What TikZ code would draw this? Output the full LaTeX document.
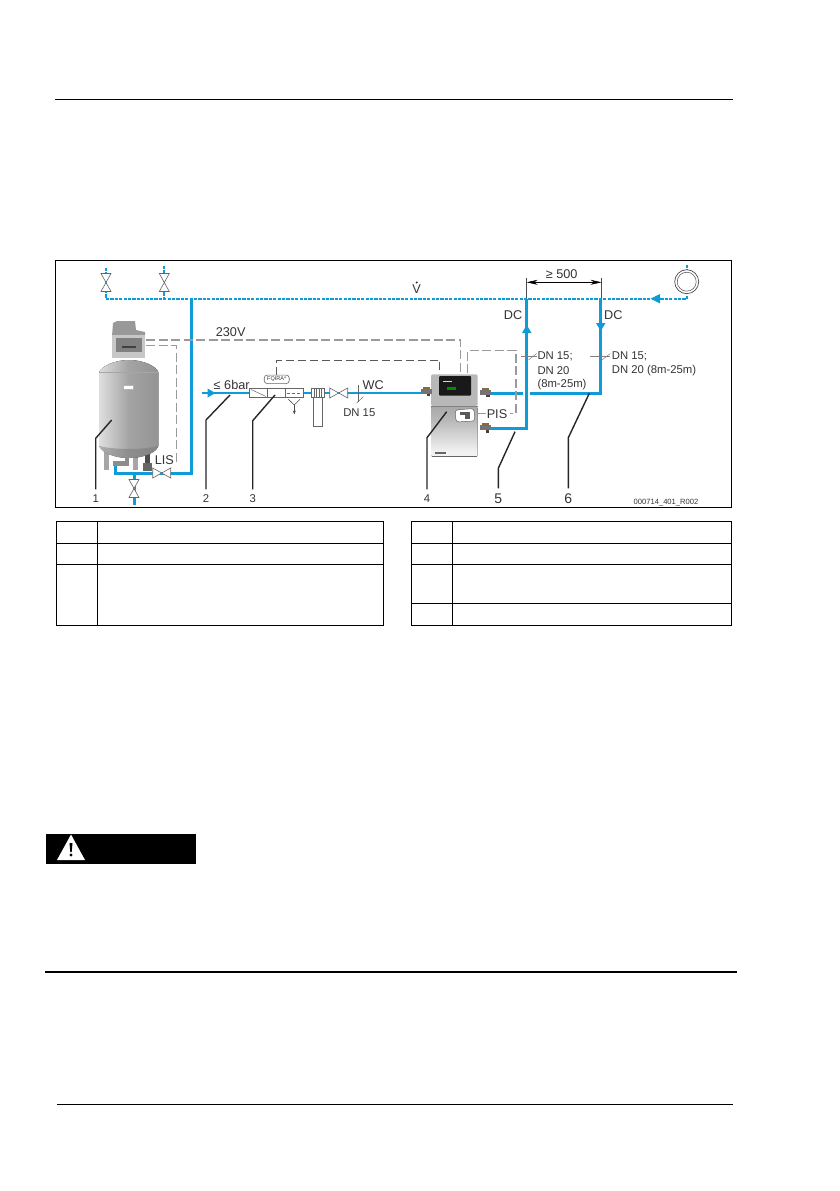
\documentclass[tikz,border=0pt]{standalone}
\usepackage{fontspec}
\setmainfont{Liberation Sans}
\usetikzlibrary{arrows.meta}
\definecolor{pipeblue}{HTML}{0F9BD7}
\definecolor{wiregray}{HTML}{9A9A9A}
\definecolor{brass}{HTML}{8A6A3A}
\pgfdeclarehorizontalshading{tankshade}{100bp}{
  color(0bp)=(black!42); color(22bp)=(black!10); color(50bp)=(black!36); color(100bp)=(black!48)}
\pgfdeclareverticalshading{unitshade}{100bp}{
  color(0bp)=(black!3); color(30bp)=(black!5); color(62bp)=(black!28); color(100bp)=(black!45)}
\tikzset{
  pipe/.style={draw=pipeblue, line width=3pt},
  thinpipe/.style={draw=pipeblue, line width=2.2pt},
  mainpipe/.style={draw=pipeblue, line width=2pt, dash pattern=on 3.2pt off 1.2pt},
  flowtip/.style={draw=none, fill=pipeblue},
  wire/.style={draw=wiregray, line width=1.1pt, dash pattern=on 9pt off 3.5pt},
  signal/.style={draw=black!65, line width=0.7pt, dash pattern=on 8pt off 4pt},
  leader/.style={draw=black!85, line width=1.4pt},
  rule/.style={draw=black, line width=0.9pt},
  tablerule/.style={draw=black, line width=0.8pt},
  thin part/.style={draw=black!60, line width=0.6pt, fill=white},
  fitting/.style={draw=none, fill=black!55, minimum width=11pt, minimum height=5pt, inner sep=0pt},
  lab/.style={font=\fontsize{12.7}{15}\selectfont, text=black!80, inner sep=0pt},
  labsmall/.style={font=\fontsize{11.3}{14}\selectfont, text=black!80, inner sep=0pt},
  numbig/.style={font=\fontsize{14}{16}\selectfont, text=black!80, inner sep=0pt},
  valve/.pic={
    \draw[thin part] (-9,-5) -- (9,5) -- (9,-5) -- (-9,5) -- cycle;
  },
}
\begin{document}
\begin{tikzpicture}[x=1pt, y=-1pt]
    \useasboundingbox (0,0) rectangle (839,1191);
    % page rules
    \draw[rule] (55,99) -- (733,99);
    \draw[rule] (57,1104) -- (733,1104);
    \draw[draw=black, line width=2pt] (45,971.5) -- (737,971.5);
    % frame
    \draw[rule] (55.5,260.5) rectangle (731.5,507.5);

    % pipe corners
    \coordinate (mainL) at (106,298.7);
    \coordinate (mainR) at (686.7,298.7);
    \coordinate (riserT) at (191,298.7);
    \coordinate (riserB) at (191,473);
    \coordinate (tankOutB) at (115,473);
    \coordinate (tankOutT) at (115,463);
    \coordinate (dcUpT) at (526.7,298.7);
    \coordinate (dcUpB) at (526.7,428.3);
    \coordinate (dcDownT) at (600.7,298.7);
    \coordinate (dcDownB) at (600.7,393);

    % blue lines
    \draw[mainpipe] (mainL) -- (mainR);
    \draw[mainpipe] (106,268) -- (mainL);
    \draw[mainpipe] (164.3,266) -- (164.3,298.7);
    \draw[mainpipe] (mainR) -- (686.7,265);
    \draw[pipe, line join=miter] (riserT) -- (riserB) -- (tankOutB) -- (tankOutT);
    \draw[pipe] (134,473) -- (134,505);
    \draw[thinpipe] (201.7,393) -- (426,393);
    \draw[pipe] (491,393) -- (523,393);
    \draw[pipe] (529.5,393) -- (dcDownB) -- (dcDownT);
    \draw[pipe] (490,428.3) -- (dcUpB) -- (dcUpT);
    % flow tips
    \fill[flowtip] (215.5,393) -- (207.5,388.5) -- (207.5,397.5) -- cycle;
    \fill[flowtip] (526.7,325) -- (522,333) -- (531.5,333) -- cycle;
    \fill[flowtip] (600.7,331) -- (596,323) -- (605.5,323) -- cycle;
    \fill[flowtip] (650.5,298.7) -- (660,294) -- (660,303.5) -- cycle;

    % signal lines
    \draw[wire] (146,340) -- (460.7,340) -- (460.7,373);
    \draw[wire] (146,345.7) -- (176.7,345.7) -- (176.7,463);
    \draw[wire] (467.3,373) -- (467.3,350.3) -- (516,350.3) -- (516,413.5) -- (510,413.5);
    \draw[wire] (478,413.5) -- (486,413.5);
    \draw[signal] (276.7,375) -- (276.7,360) -- (439.3,360) -- (439.3,373);

    % tank legs and outlet
    \fill[black!35] (104,450) rectangle (109,470);
    \fill[black!35] (133,450) rectangle (138,470);
    \fill[black!70] (145,452) rectangle (150,463);
    \fill[black!60] (143,463) rectangle (152,471);
    % tank
    \fill[shading=tankshade] (99.3,372) .. controls (102,366) and (115,360) .. (129,360)
        .. controls (143,360) and (156,366) .. (158.3,372) -- (158.3,446)
        .. controls (156,453) and (143,458) .. (129,458)
        .. controls (115,458) and (102,453) .. (99.3,446) -- cycle;
    \draw[black!35, line width=0.5pt] (99.3,372) -- (158.3,372);
    \fill[black!55, opacity=0.45] (99.3,446) .. controls (102,453) and (115,458) .. (129,458)
        .. controls (143,458) and (156,453) .. (158.3,446)
        .. controls (143,450) and (115,450) .. (99.3,446) -- cycle;
    \fill[black!45] (113,461) rectangle (128,466);
    \fill[black!45] (125,458) rectangle (129,466);
    \draw[black!30, fill=white, line width=0.4pt] (123,385) rectangle (133,389);
    % controller
    \fill[black!40] (113,323) -- (117,321) -- (135,321) -- (136,330) -- (145,332) -- (145,336) -- (112,336) -- cycle;
    \fill[black!22] (112,335) rectangle (145,358);
    \fill[black!50] (116,338) rectangle (142,352);
    \fill[black!75] (122,346) rectangle (136,348);

    % inlet parts
    \draw[thin part] (249.3,388.3) rectangle (267.3,397.3);
    \draw[black!60, line width=0.5pt] (251,389.5) -- (266,396.5);
    \draw[thin part] (267.3,388.3) rectangle (285,397.3);
    \draw[thin part] (285.7,388.3) rectangle (303,397.3);
    \draw[black!60, line width=0.5pt, densely dashed] (287,393) -- (302,393);
    \draw[black!70, line width=0.6pt] (288.3,399.3) -- (294.3,405) -- (300,399.3);
    \draw[black!70, line width=0.6pt, -{Stealth[length=4pt, width=3pt]}] (294.3,405) -- (294.3,414.5);
    \draw[thin part] (313.7,397.3) rectangle (322.3,426.7);
    \draw[thin part] (311.7,388.3) rectangle (324.3,397.3);
    \foreach \xx in {314,316.5,319,321.5} {
        \draw[black!60, line width=0.5pt] (\xx,388.3) -- (\xx,397.3);
    }
    \path (338.7,393) pic (wcvalve) {valve};
    \node[thin part, rounded corners=3pt, minimum width=25pt, minimum height=8.5pt, inner sep=0pt,
        font=\fontsize{5.5}{7}\selectfont, text=black!80] (fqira) at (276.7,379.3) {FQIRA*};

    % control unit
    \fill[rounded corners=2pt, shading=unitshade] (431,406.7) rectangle (477.7,456.7);
    \fill[black!28, rounded corners=2pt] (431,374.3) rectangle (477.7,406);
    \draw[black!50, line width=0.5pt] (431,406.5) -- (477.7,406.5);
    \draw[black!60, line width=0.8pt] (431.5,456.5) -- (477.2,456.5);
    \fill[black!90, rounded corners=1pt] (439,376) rectangle (471,395.7);
    \fill[green!55!black] (447,387) rectangle (456,390);
    \fill[white!85!black] (443,381) rectangle (452,382);
    \filldraw[draw=black!60, fill=white, rounded corners=3pt, line width=0.5pt]
        (455,410) -- (474,408.5) -- (475,421) -- (456,422) -- cycle;
    \fill[black!65] (460,412) rectangle (470,415);
    \fill[black!65] (465,415) rectangle (470,419);
    \fill[black!60] (435,452) rectangle (446,454);
    % fittings
    \foreach \xx/\yy/\nn in {426/391/fitW, 485.5/392/fitE, 485/427.5/fitD} {
        \node[fitting] (\nn) at (\xx,\yy) {};
        \fill[brass] (\xx-3.5,\yy-4.5) rectangle (\xx+3.5,\yy-2);
        \fill[black!75] (\xx+0.5,\yy+2.5) rectangle (\xx+4,\yy+5);
    }

    % valves
    \path (106,282.5) pic[rotate=90] (ventA) {valve};
    \path (164.3,282.5) pic[rotate=90] (ventB) {valve};
    \path (161.7,473) pic (tankvalve) {valve};
    \path (134,488.5) pic[rotate=90] (drainvalve) {valve};

    % expansion symbol
    \node[circle, draw=black!70, fill=white, line width=0.7pt, minimum size=24pt, inner sep=0pt] (vessel) at (686.7,281.7) {};
    \node[circle, draw=black!70, line width=0.5pt, minimum size=19pt, inner sep=0pt] at (vessel) {};

    % dimension
    \draw[black!70, line width=0.5pt] (526.7,277.5) -- (526.7,298);
    \draw[black!70, line width=0.5pt] (601.5,277.5) -- (601.5,298);
    \coordinate (dimL) at (526.7,282.3);
    \coordinate (dimR) at (601.5,282.3);
    \draw[black, line width=0.6pt, {Stealth[length=11pt, width=5pt]}-{Stealth[length=11pt, width=5pt]}] (dimL) -- (dimR);

    % pipe size ticks
    \draw[black!60, line width=0.5pt] (358.3,385) -- (358.3,401.7);
    \draw[black!60, line width=0.5pt] (356.7,403) -- (363.3,396.7);
    \draw[black!50, line width=0.5pt] (521,356.7) -- (537,356.7);
    \draw[black!50, line width=0.5pt] (528.5,360) -- (536.7,353.5);
    \draw[black!50, line width=0.5pt] (590,356.7) -- (610,356.7);
    \draw[black!50, line width=0.5pt] (602,360) -- (610.3,353.5);

    % labels
    \node[lab] (volt) at (230.7,331.7) {230V};
    \node[lab] (press) at (231.7,385) {≤ 6bar};
    \node[lab] (wc) at (373.3,385) {WC};
    \node[labsmall] (dnwc) at (359.3,412.3) {DN 15};
    \node[lab] (lis) at (164.3,460) {LIS};
    \node[lab] (pis) at (497,414.3) {PIS};
    \node[lab] (dcup) at (513,315) {DC};
    \node[lab] (dcdown) at (613.3,315) {DC};
    \node[lab] (dist) at (561.7,274.3) {≥ 500};
    \node[lab] (vflow) at (416.7,289) {V};
    \fill[black!80] (416.7,282.5) circle (1.1pt);
    \node[labsmall, anchor=west] (dnup) at (537.3,356.7) {DN 15;};
    \node[labsmall, anchor=west] (dnupb) at (537.3,370.7) {DN 20};
    \node[labsmall, anchor=west] (dnupc) at (537.3,384.3) {(8m-25m)};
    \node[labsmall, anchor=west] (dndn) at (611.7,356.7) {DN 15;};
    \node[labsmall, anchor=west] (dndnb) at (611.7,370.7) {DN 20 (8m-25m)};
    \node[labsmall, font=\fontsize{7.6}{9}\selectfont] (code) at (666,503) {000714\_401\_R002};

    % numbers with leaders
    \node[labsmall] (num1) at (95.7,498.5) {1};
    \node[labsmall] (num2) at (206,498.5) {2};
    \node[labsmall] (num3) at (252.7,498.5) {3};
    \node[labsmall] (num4) at (427,498.5) {4};
    \node[numbig] (num5) at (498.3,498.5) {5};
    \node[numbig] (num6) at (568.3,498.5) {6};
    \foreach \nn/\xa/\ya/\xb/\yb in {num1/95.7/438.3/111.7/420, num2/206/420/230/395,
        num3/252.7/420.7/275/395, num4/427/437.7/446.7/411.7,
        num5/498.3/468.3/515/431.7, num6/568.3/437.7/589.3/393.3} {
        \draw[leader] ([yshift=5pt]\nn.north) -- (\xa,\ya) -- (\xb,\yb);
    }

    % empty tables
    \draw[tablerule] (56.5,521.3) rectangle (383.7,625.3);
    \draw[tablerule] (97.6,521.3) -- (97.6,625.3);
    \draw[tablerule] (411,521.3) rectangle (731,625.3);
    \draw[tablerule] (452,521.3) -- (452,625.3);
    \foreach \yy in {543.3,564.3} {
        \draw[tablerule] (56.5,\yy) -- (383.7,\yy);
        \draw[tablerule] (411,\yy) -- (731,\yy);
    }
    \draw[tablerule] (411,603.3) -- (731,603.3);

    % warning bar
    \fill[black] (46,834) rectangle (196,864);
    \fill[white] (71,834.5) -- (85,860) -- (57,860) -- cycle;
    \fill[black] (69.5,843) -- (72.5,843) -- (71.7,852) -- (70.3,852) -- cycle;
    \fill[black] (71,855) circle (1.6pt);
\end{tikzpicture}
\end{document}
